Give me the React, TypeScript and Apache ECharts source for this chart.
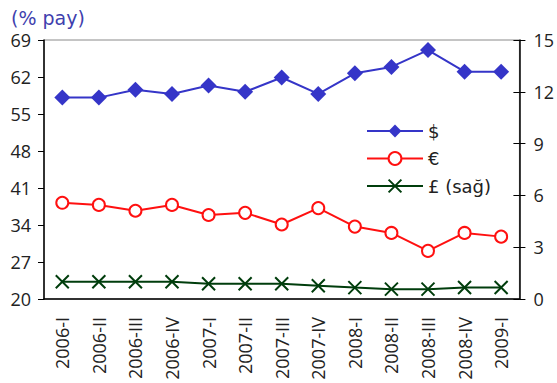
import React, { useEffect, useRef } from "react";
import * as echarts from "echarts";

const categories = [
  "2006-I", "2006-II", "2006-III", "2006-IV",
  "2007-I", "2007-II", "2007-III", "2007-IV",
  "2008-I", "2008-II", "2008-III", "2008-IV", "2009-I",
];
const usd = [58.1, 58.1, 59.6, 58.8, 60.4, 59.2, 61.9, 58.8, 62.7, 63.9, 67.1, 63.0, 63.0];
const eur = [38.2, 37.8, 36.7, 37.8, 35.9, 36.3, 34.1, 37.2, 33.7, 32.5, 29.1, 32.5, 31.8];
const gbp = [1.0, 1.0, 1.0, 1.0, 0.88, 0.88, 0.88, 0.77, 0.66, 0.57, 0.57, 0.67, 0.67];
const seriesNames = ["$", "€", "£ (sağ)"];
const titleText = "(% pay)";

const TICK_FONT = "'Open Sans', 'DejaVu Sans', sans-serif";
const WIDE_FONT = "'DejaVu Sans', sans-serif";

export default function App() {
  const ref = useRef<HTMLDivElement>(null);
  useEffect(() => {
    if (!ref.current) return;
    const chart = echarts.init(ref.current, null, { renderer: "svg" });
    chart.setOption({
      animation: false,
      backgroundColor: "#ffffff",
      title: {
        text: titleText,
        left: 6,
        top: 3,
        textStyle: { color: "#3f3fae", fontSize: 19, fontWeight: "normal", fontFamily: WIDE_FONT },
      },
      grid: {
        left: 44,
        right: 37,
        top: 40,
        bottom: 84,
        show: true,
        borderColor: "#8a8a8a",
        borderWidth: 1,
        backgroundColor: "transparent",
      },
      legend: {
        orient: "vertical",
        left: 361,
        top: 117,
        itemWidth: 56,
        itemHeight: 16,
        itemGap: 9.5,
        textStyle: { color: "#222", fontSize: 18, lineHeight: 18, fontFamily: WIDE_FONT },
        data: seriesNames,
      },
      xAxis: {
        type: "category",
        data: categories,
        boundaryGap: true,
        axisLine: { lineStyle: { color: "#000", width: 1.5 } },
        axisTick: { length: 6, lineStyle: { color: "#000" } },
        axisLabel: {
          rotate: 90,
          interval: 0,
          color: "#222",
          fontSize: 18,
          fontFamily: TICK_FONT,
          margin: 18,
        },
      },
      yAxis: [
        {
          type: "value",
          min: 20,
          max: 69,
          interval: 7,
          position: "left",
          axisLine: { show: true, lineStyle: { color: "#000", width: 1.5 } },
          axisTick: { show: true, length: 6, lineStyle: { color: "#000" } },
          axisLabel: { color: "#222", fontSize: 18, fontFamily: TICK_FONT, margin: 13 },
          splitLine: { show: false },
        },
        {
          type: "value",
          min: 0,
          max: 15,
          interval: 3,
          position: "right",
          axisLine: { show: true, lineStyle: { color: "#000", width: 1.5 } },
          axisTick: { show: true, length: 6, lineStyle: { color: "#000" } },
          axisLabel: { color: "#222", fontSize: 18, fontFamily: TICK_FONT, margin: 14 },
          splitLine: { show: false },
        },
        {
          type: "value",
          min: 0,
          max: 15,
          interval: 3,
          position: "right",
          axisLine: { show: false },
          axisTick: { show: true, inside: true, length: 6, lineStyle: { color: "#000" } },
          axisLabel: { show: false },
          splitLine: { show: false },
        },
      ],
      series: [
        {
          name: seriesNames[0],
          type: "line",
          yAxisIndex: 0,
          data: usd,
          symbol: "diamond",
          symbolSize: 16,
          lineStyle: { color: "#3535c8", width: 2 },
          itemStyle: { color: "#3535c8" },
        },
        {
          name: seriesNames[1],
          type: "line",
          yAxisIndex: 0,
          data: eur,
          symbol: "emptyCircle",
          symbolSize: 12,
          lineStyle: { color: "#ff1010", width: 2 },
          itemStyle: { color: "#ff1010", borderColor: "#ff1010", borderWidth: 2 },
        },
        {
          name: seriesNames[2],
          type: "line",
          yAxisIndex: 1,
          data: gbp,
          symbol: "path://M0,0L10,10M10,0L0,10",
          symbolSize: 13,
          lineStyle: { color: "#003d0c", width: 2 },
          itemStyle: { color: "none", borderColor: "#003d0c", borderWidth: 2 },
        },
      ],
    });
    return () => chart.dispose();
  }, []);
  return (
    <div
      ref={ref}
      style={{ position: "absolute", left: 0, top: 0, width: 557, height: 383 }}
    />
  );
}
